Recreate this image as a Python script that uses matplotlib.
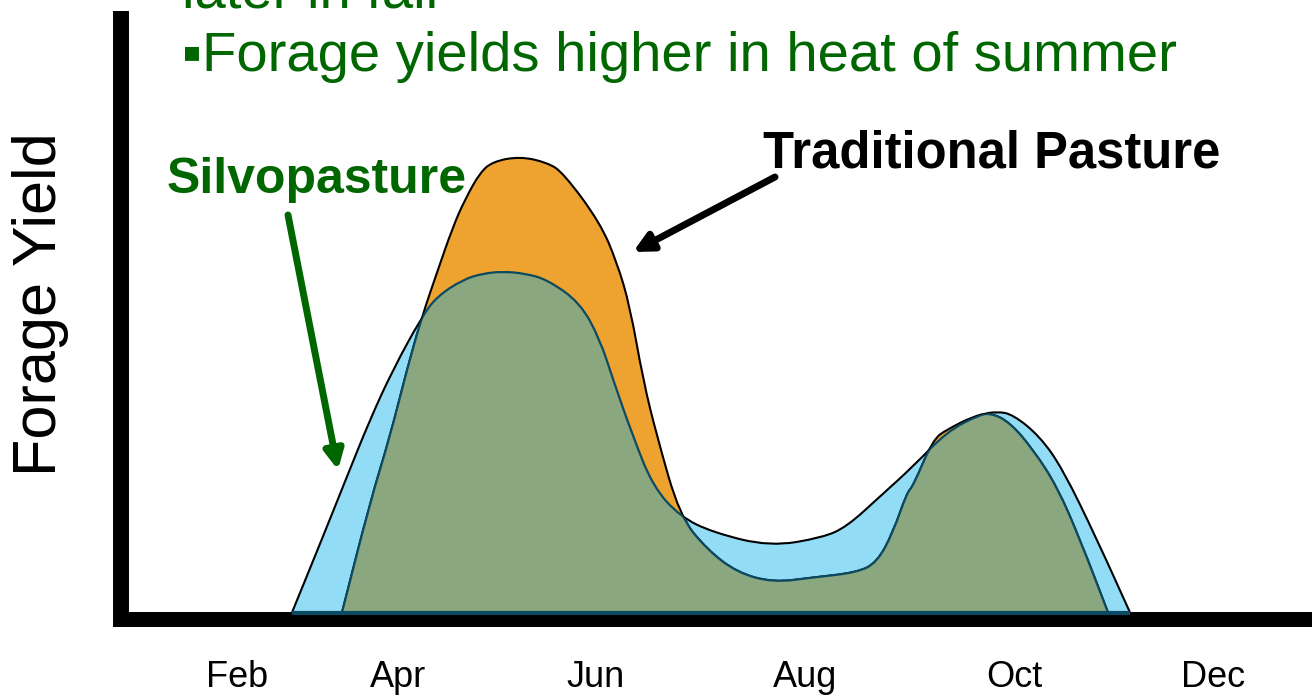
import matplotlib
matplotlib.use("Agg")
import matplotlib.pyplot as plt
from matplotlib.path import Path
from matplotlib.patches import PathPatch

# forage yield curves (x in months, y in relative yield)
trad_x = [3.47, 3.75, 3.95, 4.12, 4.27, 4.42, 4.58, 4.70, 4.85, 4.98, 5.25, 5.52, 5.68,
          6.05, 6.22, 6.35, 6.48, 6.62, 6.85, 7.12, 7.42, 7.78, 8.18, 8.62, 8.82, 8.98,
          9.12, 9.18, 9.38, 9.52, 9.78, 9.95, 10.15, 10.38, 10.62, 10.85, 11.13]
trad_y = [0.00, 1.10, 1.76, 2.43, 2.96, 3.40, 3.86, 4.13, 4.40, 4.51, 4.56, 4.50, 4.40,
          3.90, 3.50, 3.06, 2.33, 1.76, 0.96, 0.63, 0.40, 0.30, 0.35, 0.40, 0.50, 0.80,
          1.20, 1.26, 1.73, 1.83, 1.96, 2.00, 1.90, 1.63, 1.26, 0.73, 0.00]

silvo_x = [2.97, 3.28, 3.52, 3.75, 3.98, 4.27, 4.42, 4.68, 4.88, 5.08, 5.30, 5.52, 5.85,
           6.05, 6.18, 6.38, 6.58, 6.85, 7.18, 7.75, 8.28, 8.52, 8.85, 9.18, 9.52, 9.85,
           10.02, 10.18, 10.45, 10.68, 11.02, 11.35]
silvo_y = [0.00, 0.76, 1.36, 1.93, 2.43, 2.96, 3.16, 3.33, 3.39, 3.41, 3.39, 3.33, 3.10,
           2.73, 2.33, 1.76, 1.26, 0.96, 0.80, 0.66, 0.75, 0.86, 1.16, 1.46, 1.81, 1.98,
           2.01, 1.98, 1.76, 1.43, 0.73, 0.00]

month_pos = [2.42, 4.03, 6.01, 8.10, 10.19, 12.18]
month_labels = ['Feb', 'Apr', 'Jun', 'Aug', 'Oct', 'Dec']

BLUE = '#92dcf6'
ORANGE = '#eea230'
GREEN = '#8aa77f'
TEAL = '#0b4a60'
DKGREEN = '#006600'

plt.rcParams['font.family'] = ['Liberation Sans', 'DejaVu Sans']


def smooth_path(xs, ys, closed):
    # quadratic bezier through midpoints, the read points act as control points
    pts = list(zip(xs, ys))
    verts = [pts[0]]
    codes = [Path.MOVETO]
    mid = ((pts[0][0] + pts[1][0]) / 2, (pts[0][1] + pts[1][1]) / 2)
    verts.append(mid)
    codes.append(Path.LINETO)
    for i in range(1, len(pts) - 1):
        nxt = ((pts[i][0] + pts[i + 1][0]) / 2, (pts[i][1] + pts[i + 1][1]) / 2)
        verts += [pts[i], nxt]
        codes += [Path.CURVE3, Path.CURVE3]
    verts.append(pts[-1])
    codes.append(Path.LINETO)
    if closed:
        verts.append(pts[0])
        codes.append(Path.CLOSEPOLY)
    return Path(verts, codes)


fig = plt.figure(figsize=(13.12, 6.98), dpi=100)
W, H = 1312, 698
ax = fig.add_axes([121 / W, (H - 618.5) / H, (1311 - 121) / W, (618.5 - 19) / H])

# silvopasture (blue) and traditional pasture (orange)
silvo_poly = ax.add_patch(PathPatch(smooth_path(silvo_x, silvo_y, True), facecolor=BLUE,
                                    edgecolor='black', lw=1.5, zorder=3))
trad_poly = ax.add_patch(PathPatch(smooth_path(trad_x, trad_y, True), facecolor=ORANGE,
                                   edgecolor='black', lw=1.5, zorder=4))

# overlap shown in green with teal outlines
overlap = ax.add_patch(PathPatch(smooth_path(silvo_x, silvo_y, True), facecolor=GREEN,
                                 edgecolor='none', zorder=5))
overlap.set_clip_path(trad_poly)
l1 = ax.add_patch(PathPatch(smooth_path(silvo_x, silvo_y, False), facecolor='none',
                            edgecolor=TEAL, lw=1.6, zorder=6))
l1.set_clip_path(trad_poly)
l2 = ax.add_patch(PathPatch(smooth_path(trad_x, trad_y, False), facecolor='none',
                            edgecolor=TEAL, lw=1.6, zorder=6))
l2.set_clip_path(silvo_poly)
ax.plot([silvo_x[0], silvo_x[-1]], [0, 0], color=TEAL, lw=3, zorder=7,
        solid_capstyle='butt')

ax.set_xlim(1.26, 13.16)
ax.set_ylim(-0.06, 5.935)

for s in ['top', 'right']:
    ax.spines[s].set_visible(False)
ax.spines['left'].set_linewidth(11.5)
ax.spines['bottom'].set_linewidth(10.8)

ax.set_yticks([])
ax.set_xticks(month_pos, month_labels)
ax.tick_params(axis='x', length=0, pad=30, labelsize=26)

# labels and annotations
fig.text(41 / W, 1 - 304 / H, 'Forage Yield', rotation=90, ha='center', va='center',
         fontsize=44, color='black')
fig.text(182 / W, 1 - 8 / H, 'later in fall', fontsize=40.5, color=DKGREEN, va='baseline')
fig.text(182 / W, 1 - 71 / H, '\u25aaForage yields higher in heat of summer', fontsize=40.5,
         color=DKGREEN, va='baseline')

fig.text(167 / W, 1 - 193 / H, 'Silvopasture', fontsize=36, fontweight='bold',
         color=DKGREEN, va='baseline')
fig.text(763 / W, 1 - 168 / H, 'Traditional Pasture', fontsize=36.5, fontweight='bold',
         color='black', va='baseline')

ax.annotate('', xy=(338, H - 470), xytext=(288, H - 215), xycoords='figure pixels',
            textcoords='figure pixels',
            arrowprops=dict(arrowstyle='-|>', mutation_scale=28, lw=5, color=DKGREEN,
                            shrinkA=0, shrinkB=0))
ax.annotate('', xy=(633, H - 252), xytext=(775, H - 177), xycoords='figure pixels',
            textcoords='figure pixels',
            arrowprops=dict(arrowstyle='-|>', mutation_scale=28, lw=5, color='black',
                            shrinkA=0, shrinkB=0))

fig.savefig('out.png', dpi=100)
